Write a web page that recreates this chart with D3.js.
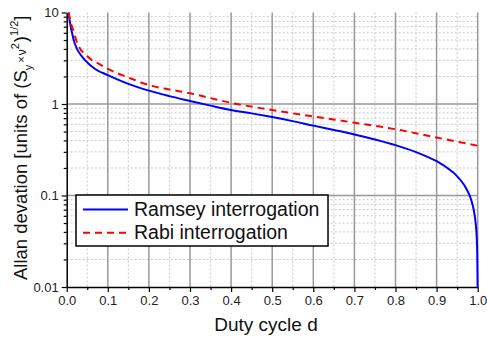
<!DOCTYPE html>
<html>
<head>
<meta charset="utf-8">
<script src="https://cdn.jsdelivr.net/npm/d3@7"></script>
<style>
  body { margin: 0; background: #fff; }
  svg { display: block; font-family: "Liberation Sans", Arial, sans-serif; }
</style>
</head>
<body>
<svg id="chart" width="487" height="341"></svg>
<script>
// duty cycle values
const ramseyD = [0.004, 0.0056, 0.0075, 0.0097, 0.013, 0.017, 0.025, 0.035, 0.045, 0.07, 0.1, 0.15, 0.2, 0.25, 0.3, 0.35, 0.4, 0.45, 0.5, 0.55, 0.6, 0.65, 0.7, 0.75, 0.8, 0.85, 0.875, 0.9, 0.91, 0.92, 0.93, 0.94, 0.95, 0.96, 0.97, 0.98, 0.985, 0.99, 0.9925, 0.995, 0.998, 0.999, 0.9998]
const ramseyVals = [10, 9, 8, 7, 6, 5, 4, 3.4, 3, 2.4, 2.07, 1.66, 1.4, 1.22, 1.08, 0.96, 0.86, 0.79, 0.72, 0.65, 0.58, 0.52, 0.465, 0.41, 0.355, 0.298, 0.268, 0.237, 0.223, 0.209, 0.194, 0.179, 0.162, 0.144, 0.124, 0.101, 0.087, 0.071, 0.061, 0.05, 0.032, 0.022, 0.01]

const rabiD = [0.005, 0.008, 0.013, 0.018, 0.023, 0.033, 0.05, 0.062, 0.075, 0.1, 0.15, 0.2, 0.25, 0.3, 0.35, 0.4, 0.5, 0.6, 0.7, 0.8, 0.9, 1.0]
const rabiVals = [10, 8.3, 7, 6, 5, 4, 3.35, 3, 2.8, 2.42, 1.95, 1.61, 1.44, 1.31, 1.16, 1.03, 0.86, 0.73, 0.625, 0.53, 0.43, 0.35]

const xTicks = [0, 0.1, 0.2, 0.3, 0.4, 0.5, 0.6, 0.7, 0.8, 0.9, 1.0]
const xMinor = [0.05, 0.15, 0.25, 0.35, 0.45, 0.55, 0.65, 0.75, 0.85, 0.95]
const yTicks = [0.01, 0.1, 1, 10]
const yTickLabels = ["0.01", "0.1", "1", "10"]

const legendNames = ["Ramsey interrogation", "Rabi interrogation"]
const colors = ["#0000ff", "#ff0000"]

const svg = d3.select("#chart")
const margin = {left: 66.7, right: 477.7, top: 12.5, bottom: 287}

const x = d3.scaleLinear().domain([0, 1]).range([margin.left, margin.right])
const y = d3.scaleLog().domain([0.01, 10]).range([margin.bottom, margin.top])

// minor y values: 2..9 of each decade
let yMinor = []
yTicks.slice(0, 3).forEach(dec => {
  for (let k = 2; k <= 9; k++) yMinor.push(dec * k)
})

const grid = svg.append("g")
// minor grid (dotted)
grid.selectAll(".vminor").data(xMinor).join("line")
  .attr("x1", d => x(d)).attr("x2", d => x(d))
  .attr("y1", margin.top).attr("y2", margin.bottom)
  .attr("stroke", "#c8c8c8").attr("stroke-width", 1).attr("stroke-dasharray", "2,2")
grid.selectAll(".hminor").data(yMinor).join("line")
  .attr("x1", margin.left).attr("x2", margin.right)
  .attr("y1", d => y(d)).attr("y2", d => y(d))
  .attr("stroke", "#c8c8c8").attr("stroke-width", 1).attr("stroke-dasharray", "2,2")
// major grid
grid.selectAll(".vmajor").data(xTicks.slice(1)).join("line")
  .attr("x1", d => x(d)).attr("x2", d => x(d))
  .attr("y1", margin.top).attr("y2", margin.bottom)
  .attr("stroke", "#999").attr("stroke-width", 1.5)
grid.selectAll(".hmajor").data([0.1, 1]).join("line")
  .attr("x1", margin.left).attr("x2", margin.right)
  .attr("y1", d => y(d)).attr("y2", d => y(d))
  .attr("stroke", "#999").attr("stroke-width", 1.5)

// axes
const xAxis = svg.append("g").attr("transform", `translate(0,${margin.bottom})`)
  .call(d3.axisBottom(x).tickValues(xTicks).tickFormat(d3.format(".1f")).tickSize(5).tickSizeOuter(0))
svg.append("g").attr("transform", `translate(0,${margin.bottom})`)
  .call(d3.axisBottom(x).tickValues(xMinor).tickFormat("").tickSize(3).tickSizeOuter(0))
  .select(".domain").remove()

const yAxis = svg.append("g").attr("transform", `translate(${margin.left},0)`)
  .call(d3.axisLeft(y).tickValues(yTicks).tickFormat((d, i) => yTickLabels[i]).tickSize(5).tickSizeOuter(0))
svg.append("g").attr("transform", `translate(${margin.left},0)`)
  .call(d3.axisLeft(y).tickValues(yMinor).tickFormat("").tickSize(3).tickSizeOuter(0))
  .select(".domain").remove()

svg.selectAll(".domain").attr("stroke", "#000").attr("stroke-width", 1.5)
svg.selectAll(".tick line").attr("stroke", "#000").attr("stroke-width", 1.2)
svg.selectAll(".tick text").attr("font-size", 13).attr("fill", "#222")
  .attr("font-family", "Liberation Sans, Arial, sans-serif")
xAxis.selectAll(".tick text").attr("dy", "0.71em").attr("y", 9)
yAxis.selectAll(".tick text").attr("x", -8)

// curves
const line = d3.line().x(d => x(d[0])).y(d => y(d[1])).curve(d3.curveMonotoneX)
svg.append("path")
  .datum(ramseyD.map((d, i) => [d, ramseyVals[i]]))
  .attr("d", line).attr("fill", "none")
  .attr("stroke", colors[0]).attr("stroke-width", 2)
svg.append("path")
  .datum(rabiD.map((d, i) => [d, rabiVals[i]]))
  .attr("d", line).attr("fill", "none")
  .attr("stroke", colors[1]).attr("stroke-width", 2)
  .attr("stroke-dasharray", "7,5")

// legend
const lg = svg.append("g").attr("transform", "translate(76,195)")
lg.append("rect").attr("width", 252).attr("height", 51)
  .attr("fill", "#fff").attr("stroke", "#000").attr("stroke-width", 1.5)
legendNames.forEach((name, i) => {
  const yy = 14.5 + i * 23.3
  lg.append("line").attr("x1", 7).attr("x2", 52).attr("y1", yy).attr("y2", yy)
    .attr("stroke", colors[i]).attr("stroke-width", 2)
    .attr("stroke-dasharray", i === 1 ? "7,5" : null)
  lg.append("text").attr("x", 58).attr("y", yy + 6.5)
    .attr("font-size", 19.5).attr("fill", "#111").text(name)
})

// axis titles
svg.append("text").attr("x", 266).attr("y", 331)
  .attr("text-anchor", "middle").attr("font-size", 19).attr("fill", "#111")
  .text("Duty cycle d")

const yl = svg.append("text")
  .attr("transform", "translate(27,280) rotate(-90)")
  .attr("font-size", 18.5).attr("fill", "#111")
yl.append("tspan").text("Allan devation [units of (S")
yl.append("tspan").attr("font-size", 11).attr("dy", 5).text("y")
yl.append("tspan").attr("font-size", 11).attr("dy", -7).attr("dx", 2).text("×")
yl.append("tspan").attr("font-size", 12).attr("dy", 1).attr("dx", 1).text("ν")
yl.append("tspan").attr("font-size", 11).attr("dy", -7).text("2")
yl.append("tspan").attr("dy", 8).attr("dx", 1).text(")")
yl.append("tspan").attr("font-size", 11).attr("dy", -9).text("1/2")
yl.append("tspan").attr("dy", 9).text("]")
</script>
</body>
</html>
